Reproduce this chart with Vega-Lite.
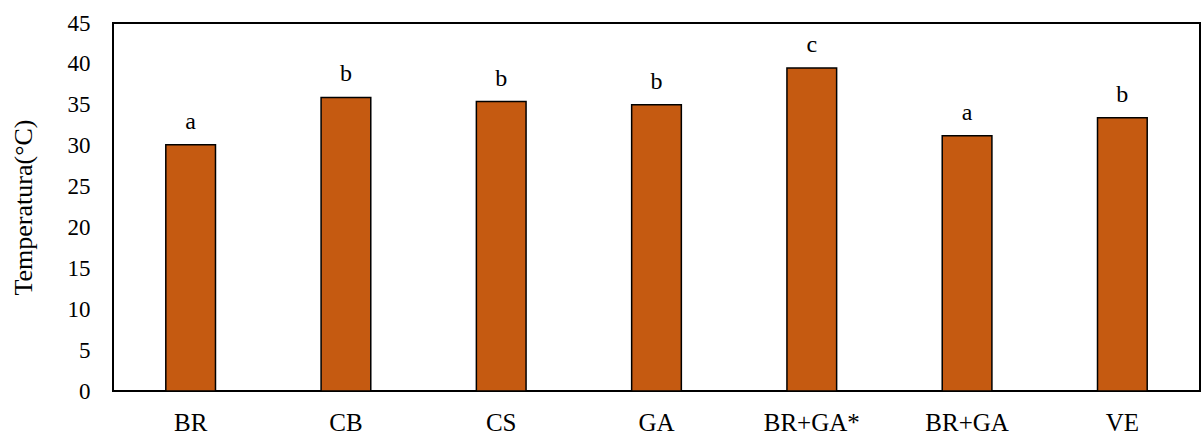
{
  "$schema": "https://vega.github.io/schema/vega-lite/v6.json",
  "width": 1087,
  "height": 368,
  "autosize": {"type": "none"},
  "padding": {"left": 113, "top": 23, "right": 1, "bottom": 45},
  "background": "#ffffff",
  "config": {
    "view": {"stroke": "#000000", "strokeWidth": 2},
    "font": "Liberation Serif"
  },
  "data": {
    "values": [
      {"tratamiento": "BR", "temperatura": 30.1, "grupo": "a"},
      {"tratamiento": "CB", "temperatura": 35.9, "grupo": "b"},
      {"tratamiento": "CS", "temperatura": 35.4, "grupo": "b"},
      {"tratamiento": "GA", "temperatura": 35.0, "grupo": "b"},
      {"tratamiento": "BR+GA*", "temperatura": 39.5, "grupo": "c"},
      {"tratamiento": "BR+GA", "temperatura": 31.2, "grupo": "a"},
      {"tratamiento": "VE", "temperatura": 33.4, "grupo": "b"}
    ]
  },
  "encoding": {
    "x": {
      "field": "tratamiento",
      "type": "nominal",
      "sort": null,
      "scale": {"paddingInner": 0.68, "paddingOuter": 0.34},
      "axis": {
        "title": null,
        "labelAngle": 0,
        "labelFont": "Liberation Serif",
        "labelFontSize": 25,
        "labelColor": "#000000",
        "labelBaseline": "alphabetic",
        "labelPadding": 39,
        "ticks": false,
        "tickSize": 0,
        "domain": false
      }
    },
    "y": {
      "field": "temperatura",
      "type": "quantitative",
      "scale": {"domain": [0, 45], "nice": false},
      "axis": {
        "title": "Temperatura(°C)",
        "titleFont": "Liberation Serif",
        "titleFontSize": 26,
        "titleFontWeight": "normal",
        "titleColor": "#000000",
        "titleBaseline": "middle",
        "titleX": -90,
        "values": [0, 5, 10, 15, 20, 25, 30, 35, 40, 45],
        "labelFont": "Liberation Serif",
        "labelFontSize": 23,
        "labelColor": "#000000",
        "labelPadding": 23,
        "ticks": false,
        "tickSize": 0,
        "domain": false,
        "grid": false
      }
    }
  },
  "layer": [
    {
      "mark": {"type": "bar", "color": "#C55A11", "stroke": "#000000", "strokeWidth": 1.5}
    },
    {
      "mark": {
        "type": "text",
        "font": "Liberation Serif",
        "fontSize": 24,
        "color": "#000000",
        "baseline": "alphabetic",
        "dy": -16
      },
      "encoding": {"text": {"field": "grupo"}}
    }
  ]
}
